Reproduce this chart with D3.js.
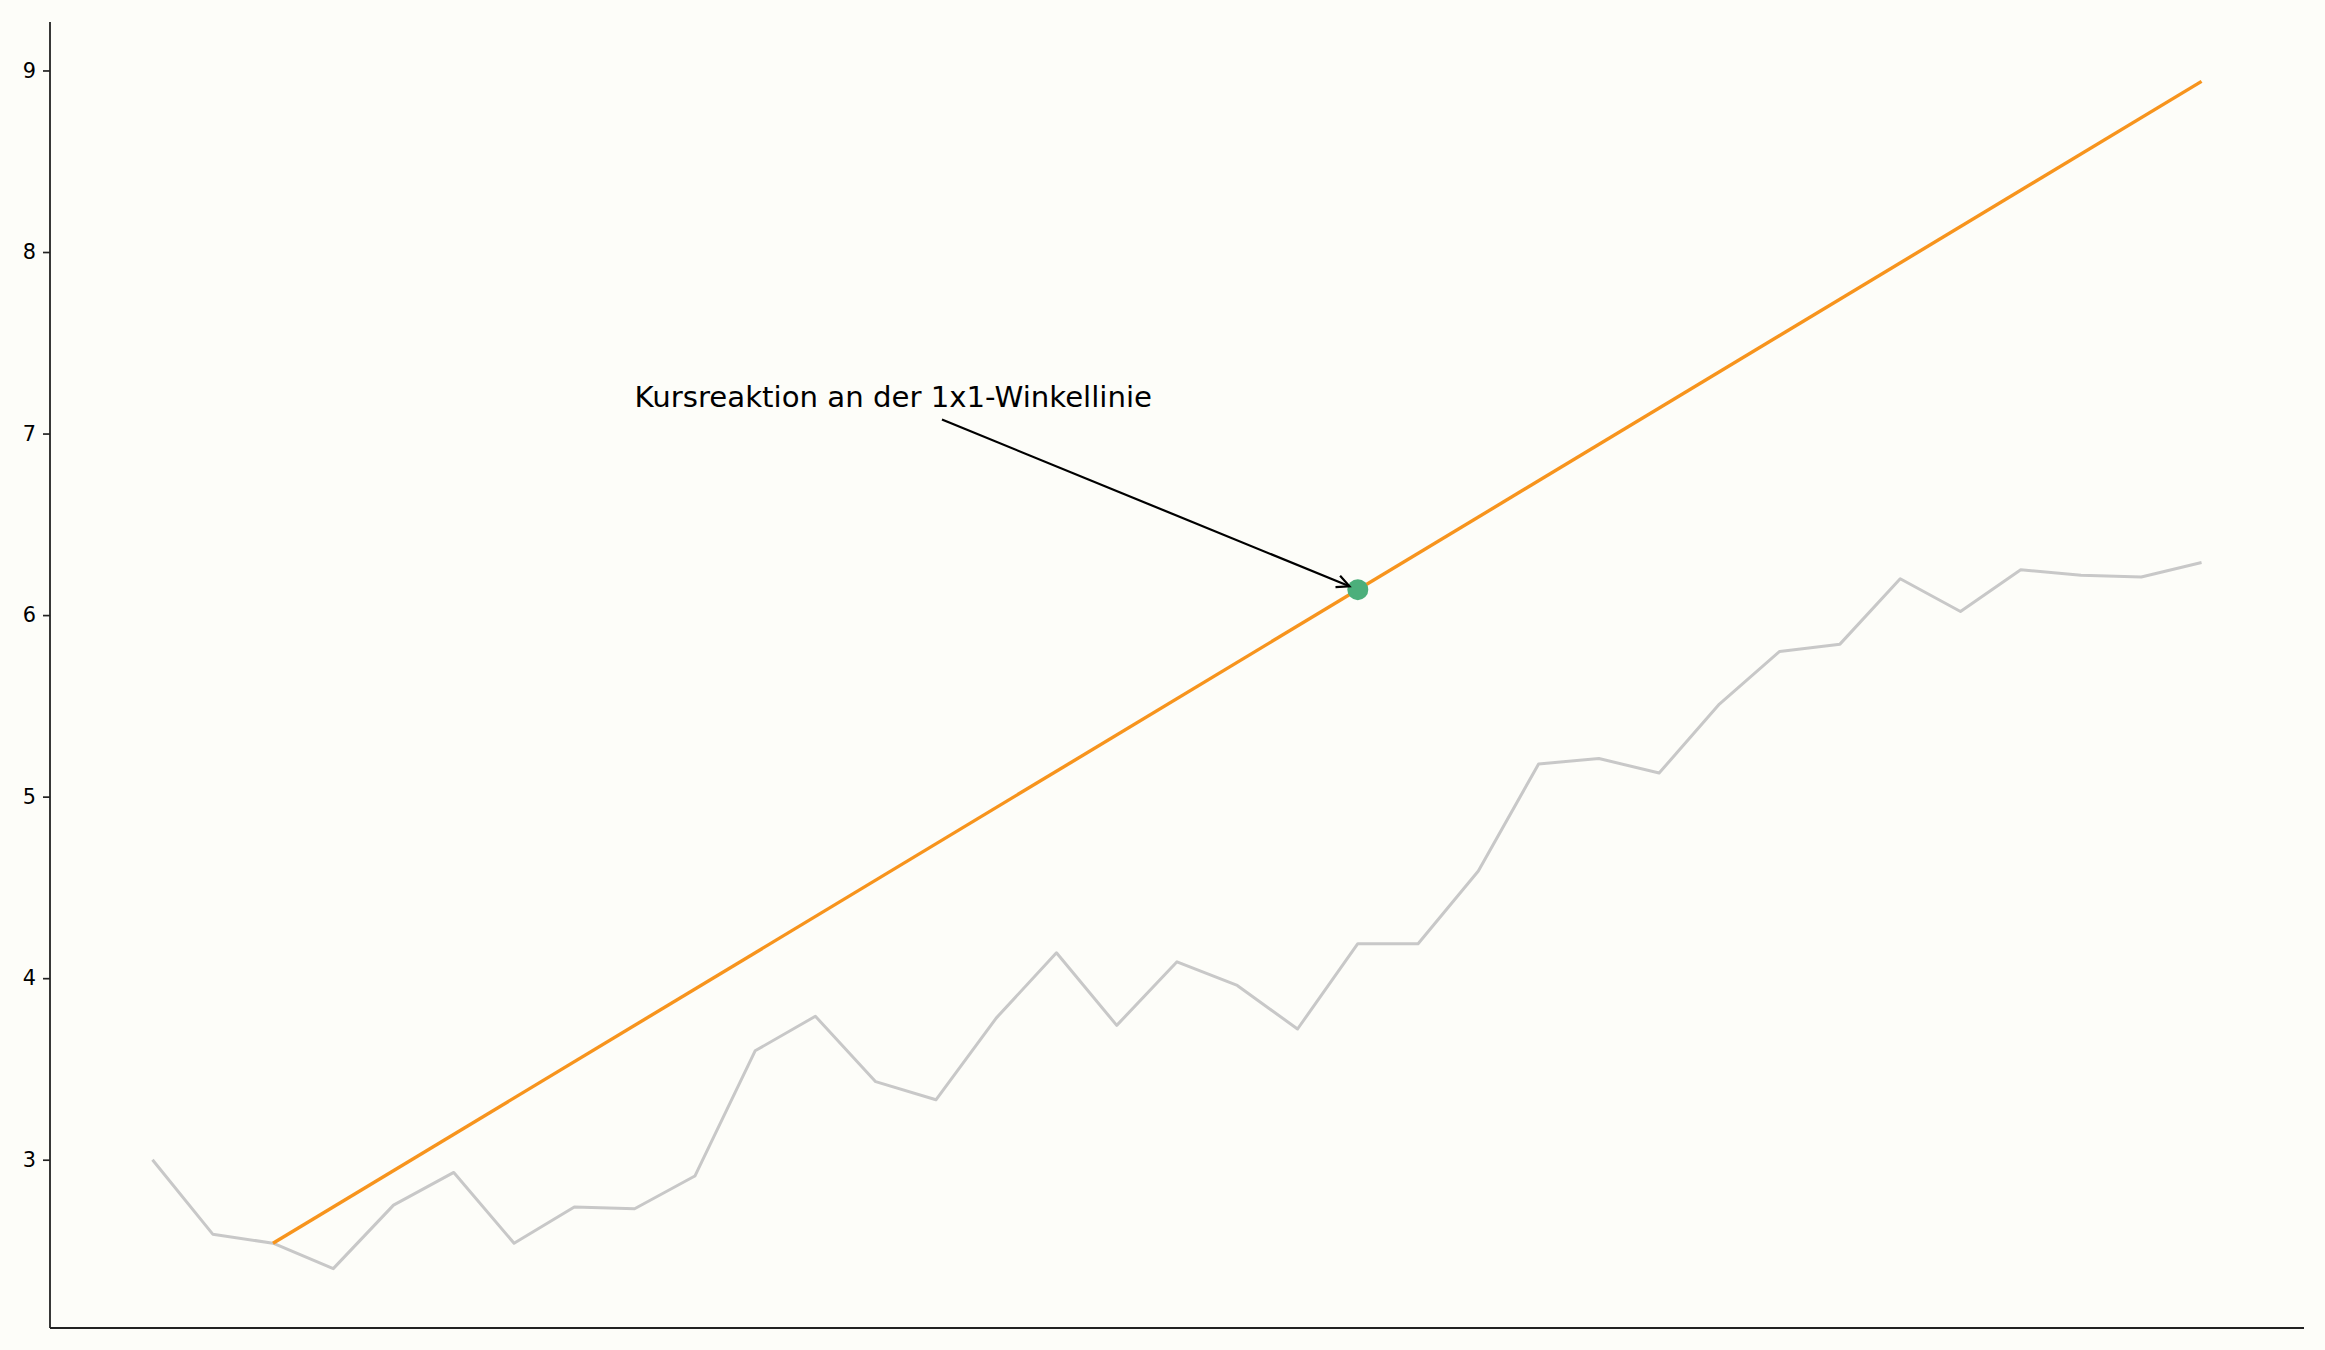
<!DOCTYPE html>
<html>
<head>
<meta charset="utf-8">
<script src="https://cdn.jsdelivr.net/npm/d3@7"></script>
<style>
  html, body { margin: 0; padding: 0; background: #fdfdf9; }
  svg { display: block; }
  text { font-family: "DejaVu Sans", sans-serif; }
</style>
</head>
<body>
<svg id="chart" width="2325" height="1350"></svg>
<script>
// ---- data ----
const priceIndex = d3.range(35);
const priceValues = [3.00, 2.59, 2.54, 2.40, 2.75, 2.93, 2.54, 2.74, 2.73, 2.91,
                     3.60, 3.79, 3.43, 3.33, 3.78, 4.14, 3.74, 4.09, 3.96, 3.72,
                     4.19, 4.19, 4.59, 5.18, 5.21, 5.13, 5.51, 5.80, 5.84, 6.20,
                     6.02, 6.25, 6.22, 6.21, 6.29];
const angleLineIdx = [2, 34];
const angleLineVal = [2.54, 8.94];
const reactionIdx = 20;
const reactionVal = 6.14;
const annotationText = "Kursreaktion an der 1x1-Winkellinie";
const yTicks = [3, 4, 5, 6, 7, 8, 9];

(function () {
// ---- layout ----
const W = 2325, H = 1350;
const mLeft = 50, mRight = 2304, mTop = 22, mBottom = 1328;

const svg = d3.select("#chart");
svg.append("rect").attr("width", W).attr("height", H).attr("fill", "#fdfdf9");

const xMin = d3.min(priceIndex), xMax = d3.max(priceIndex);
const xPad = (xMax - xMin) * 0.05;
const x = d3.scaleLinear().domain([xMin - xPad, xMax + xPad]).range([mLeft, mRight]);

const allVals = priceValues.concat(angleLineVal);
const yMin = d3.min(allVals), yMax = d3.max(allVals);
const yPad = (yMax - yMin) * 0.05;
const y = d3.scaleLinear().domain([yMin - yPad, yMax + yPad]).range([mBottom, mTop]);

const line = d3.line().x(d => x(d[0])).y(d => y(d[1]));

// price line
svg.append("path")
  .datum(priceIndex.map((i, k) => [i, priceValues[k]]))
  .attr("d", line)
  .attr("fill", "none")
  .attr("stroke", "#c8c8c8")
  .attr("stroke-width", 3)
  .attr("stroke-linejoin", "round");

// 1x1 angle line
svg.append("path")
  .datum(angleLineIdx.map((i, k) => [i, angleLineVal[k]]))
  .attr("d", line)
  .attr("fill", "none")
  .attr("stroke", "#f7941d")
  .attr("stroke-width", 3.4);

// reaction point
svg.append("circle")
  .attr("cx", x(reactionIdx))
  .attr("cy", y(reactionVal))
  .attr("r", 10.5)
  .attr("fill", "#4caf7b");

// annotation
const textX = 8.0, textY = 7.145;
svg.append("text")
  .attr("x", x(textX))
  .attr("y", y(textY))
  .attr("font-size", 29.2)
  .attr("fill", "#000")
  .text(annotationText);

const ax0 = x(13.1), ay0 = y(7.077);
const cx = x(reactionIdx), cy = y(reactionVal);
const ang = Math.atan2(cy - ay0, cx - ax0);
const ax1 = cx - Math.cos(ang) * 9, ay1 = cy - Math.sin(ang) * 9;
svg.append("line")
  .attr("x1", ax0).attr("y1", ay0).attr("x2", ax1).attr("y2", ay1)
  .attr("stroke", "#000").attr("stroke-width", 2.2);
const hl = 14, ha = 0.45;
svg.append("path")
  .attr("d", `M${ax1 - hl * Math.cos(ang - ha)},${ay1 - hl * Math.sin(ang - ha)} L${ax1},${ay1} L${ax1 - hl * Math.cos(ang + ha)},${ay1 - hl * Math.sin(ang + ha)}`)
  .attr("fill", "none").attr("stroke", "#000").attr("stroke-width", 2.2);

// axes
const yAxis = d3.axisLeft(y).tickValues(yTicks).tickFormat(d3.format("d")).tickSize(7).tickPadding(7);
const gy = svg.append("g").attr("transform", `translate(${mLeft},0)`).call(yAxis);
gy.select(".domain").remove();
gy.selectAll(".tick line").attr("stroke", "#222").attr("stroke-width", 1.7);
gy.selectAll(".tick text").attr("font-size", 20.8).attr("fill", "#000").attr("font-family", "DejaVu Sans");

svg.append("line").attr("x1", mLeft).attr("x2", mLeft).attr("y1", mTop).attr("y2", mBottom)
  .attr("stroke", "#222").attr("stroke-width", 1.8);
svg.append("line").attr("x1", mLeft).attr("x2", mRight).attr("y1", mBottom).attr("y2", mBottom)
  .attr("stroke", "#222").attr("stroke-width", 1.8);
})();
</script>
</body>
</html>
